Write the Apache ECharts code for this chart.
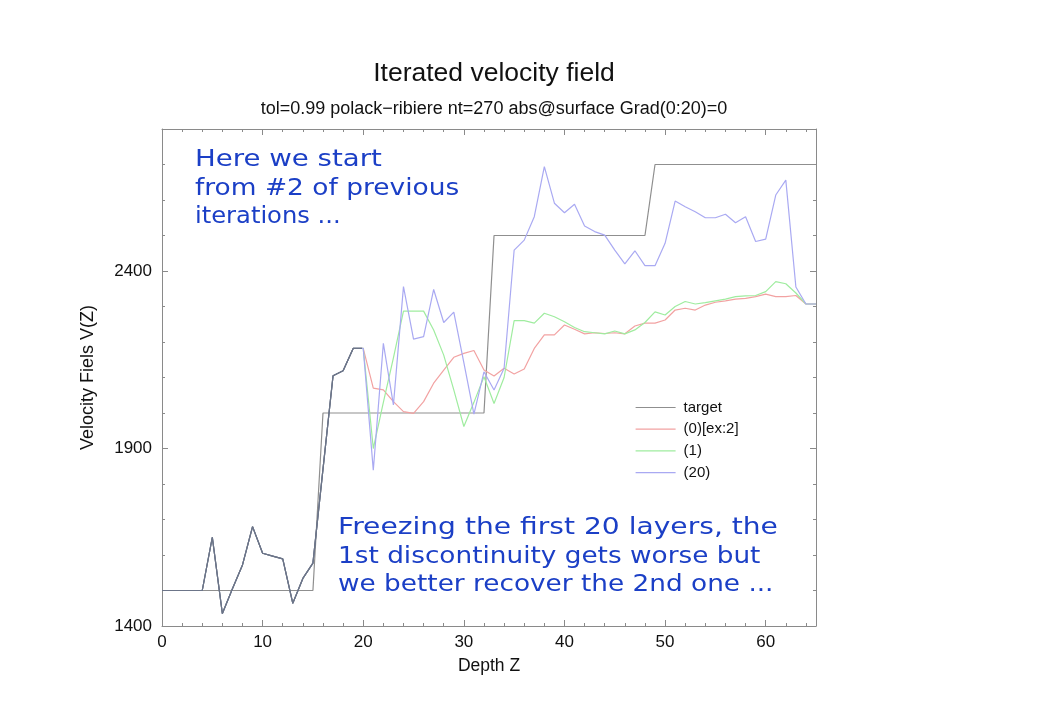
<!DOCTYPE html>
<html>
<head>
<meta charset="utf-8">
<script src="https://cdn.jsdelivr.net/npm/echarts@6/dist/echarts.min.js"></script>
<style>
html,body{margin:0;padding:0;background:#fff;}
#chart{width:1040px;height:716px;}
</style>
</head>
<body>
<div id="chart"></div>
<script>
// Depth values 0..65
const depth = Array.from({length: 66}, (_, i) => i);

// Shared (frozen) first 21 layers, 0..20
const frozen = [1500,1500,1500,1500,1500,1650,1435,1505,1572,1680,1605,1597,1589,1464,1534,1577,1842,2105,2119,2182,2182];

const targetVals = [
  1500,1500,1500,1500,1500,1500,1500,1500,1500,1500,1500,1500,1500,1500,1500,1500,
  2000,2000,2000,2000,2000,2000,2000,2000,2000,2000,2000,2000,2000,2000,2000,2000,2000,
  2500,2500,2500,2500,2500,2500,2500,2500,2500,2500,2500,2500,2500,2500,2500,2500,
  2700,2700,2700,2700,2700,2700,2700,2700,2700,2700,2700,2700,2700,2700,2700,2700,2700
];

// 21..65
const iter0Tail = [2070,2065,2032,2004,1999,2032,2084,2121,2157,2168,2176,2121,2104,2126,2110,2124,2182,2220,2220,2248,2236,2223,2226,2224,2226,2223,2245,2253,2253,2262,2290,2295,2290,2304,2312,2316,2321,2323,2328,2335,2328,2328,2331,2307,2307];
const iter1Tail = [1900,2030,2155,2287,2287,2287,2234,2163,2065,1962,2030,2102,2027,2100,2260,2260,2253,2281,2271,2257,2241,2229,2226,2223,2231,2223,2234,2255,2285,2276,2300,2314,2307,2311,2316,2321,2328,2330,2331,2342,2370,2364,2338,2307,2307];
const iter20Tail = [1839,2196,2023,2356,2208,2215,2348,2255,2284,2142,1997,2116,2065,2126,2459,2487,2553,2694,2591,2564,2588,2527,2511,2501,2459,2420,2457,2415,2415,2478,2597,2581,2567,2550,2550,2560,2536,2553,2483,2490,2614,2656,2355,2307,2307];

const yTicks = [1400, 1900, 2400];
const xTicks = [0, 10, 20, 30, 40, 50, 60];
const frozenLayers = 20;
const names = ['target', '(0)[ex:2]', '(1)', '(20)'];
const colors = ['#8f8f8f', '#f2a2a2', '#9fec9f', '#a9a9f2'];

const iter0 = frozen.concat(iter0Tail);
const iter1 = frozen.concat(iter1Tail);
const iter20 = frozen.concat(iter20Tail);

const pairs = v => depth.map((d, i) => [d, v[i]]);

const chart = echarts.init(document.getElementById('chart'));
const axisColor = '#8a8a8a';
const frozenColor = '#6c7589';
const xMin = 0, xMax = 65;
const cut = (frozenLayers - xMin) / (xMax - xMin);

function splitColor(c) {
  return new echarts.graphic.LinearGradient(0, 0, 1, 0, [
    {offset: 0, color: frozenColor}, {offset: cut, color: frozenColor},
    {offset: cut, color: c}, {offset: 1, color: c}
  ]);
}

function mkX(pos, labels) {
  return {
    type: 'value', position: pos, min: xMin, max: xMax, interval: 10,
    axisLine: {show: true, onZero: false, lineStyle: {color: axisColor, width: 1}},
    axisTick: {show: true, inside: true, length: 6, lineStyle: {color: axisColor}},
    minorTick: {show: true, splitNumber: 5, length: 3, lineStyle: {color: axisColor}},
    axisLabel: {show: labels, color: '#111', fontSize: 17, fontFamily: 'Liberation Sans', margin: 8, showMaxLabel: false,
      formatter: v => xTicks.indexOf(v) >= 0 ? String(v) : ''},
    splitLine: {show: false}, minorSplitLine: {show: false},
    name: labels ? 'Depth Z' : '', nameLocation: 'middle', nameGap: 31,
    nameTextStyle: {color: '#111', fontSize: 17.5, fontFamily: 'Liberation Sans'}
  };
}
function mkY(pos, labels) {
  return {
    type: 'value', position: pos, min: 1400, max: 2800, interval: 500,
    axisLine: {show: true, onZero: false, lineStyle: {color: axisColor, width: 1}},
    axisTick: {show: true, inside: true, length: 6, lineStyle: {color: axisColor}},
    minorTick: {show: true, splitNumber: 5, length: 3, lineStyle: {color: axisColor}},
    axisLabel: {show: labels, color: '#111', fontSize: 17, fontFamily: 'Liberation Sans', margin: 10, showMaxLabel: false,
      formatter: v => yTicks.indexOf(v) >= 0 ? String(v) : ''},
    splitLine: {show: false}, minorSplitLine: {show: false},
    name: labels ? 'Velocity Fiels V(Z)' : '', nameLocation: 'middle', nameGap: 65,
    nameTextStyle: {color: '#111', fontSize: 18, fontFamily: 'Liberation Sans'}
  };
}

function note(x, y, text, sx) {
  return {type: 'text', x: x, y: y, scaleX: sx,
    style: {text: text, fill: '#1b3fc6', fontFamily: 'DejaVu Sans', fontSize: 23.5, verticalAlign: 'middle', align: 'left'}};
}

const option = {
  backgroundColor: '#fff',
  animation: false,
  title: {
    text: 'Iterated velocity field',
    subtext: 'tol=0.99 polack\u2212ribiere nt=270 abs@surface Grad(0:20)=0',
    left: 489, top: 55, textAlign: 'center', itemGap: 13,
    textStyle: {fontFamily: 'Liberation Sans', fontSize: 26.5, fontWeight: 'normal', color: '#111'},
    subtextStyle: {fontFamily: 'Liberation Sans', fontSize: 18, color: '#111'}
  },
  grid: {left: 162, right: 224, top: 129, bottom: 90},
  xAxis: [mkX('bottom', true), mkX('top', false)],
  yAxis: [mkY('left', true), mkY('right', false)],
  legend: {
    orient: 'vertical', left: 630, top: 395, itemWidth: 40, itemHeight: 14, itemGap: 6.7,
    itemStyle: {opacity: 0},
    textStyle: {fontFamily: 'Liberation Sans', fontSize: 15, color: '#111', padding: [0,0,0,3]},
    data: names.map((n, i) => ({name: n, lineStyle: {color: colors[i], width: 1.2}}))
  },
  series: [
    {name: names[0], type: 'line', data: pairs(targetVals), symbol: 'none', lineStyle: {width: 1.2, color: colors[0]}, itemStyle: {color: colors[0]}, z: 1},
    {name: names[1], type: 'line', data: pairs(iter0), symbol: 'none', lineStyle: {width: 1.2, color: splitColor(colors[1])}, itemStyle: {color: colors[1]}, z: 2},
    {name: names[2], type: 'line', data: pairs(iter1), symbol: 'none', lineStyle: {width: 1.2, color: splitColor(colors[2])}, itemStyle: {color: colors[2]}, z: 3},
    {name: names[3], type: 'line', data: pairs(iter20), symbol: 'none', lineStyle: {width: 1.2, color: splitColor(colors[3])}, itemStyle: {color: colors[3]}, z: 4}
  ],
  graphic: [
    note(195, 160, 'Here we start', 1.175),
    note(195, 189, 'from #2 of previous', 1.125),
    note(195, 217, 'iterations ...', 1.03),
    note(338, 528, 'Freezing the first 20 layers, the', 1.197),
    note(338, 557, '1st discontinuity gets worse but', 1.12),
    note(338, 585, 'we better recover the 2nd one ...', 1.12)
  ]
};
chart.setOption(option);
</script>
</body>
</html>
